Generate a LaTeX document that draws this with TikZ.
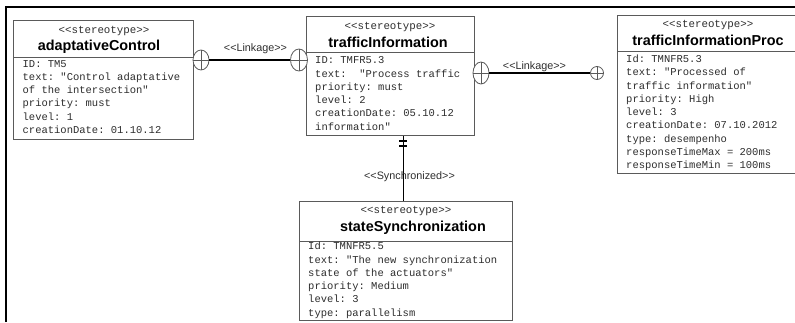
\documentclass[tikz,border=0pt]{standalone}
\usepackage{fontspec}
\setmainfont{Liberation Sans}[Ligatures=TeXOff]
\setsansfont{Liberation Sans}[Ligatures=TeXOff]
\setmonofont{Liberation Mono}
\usetikzlibrary{shapes.geometric}

\definecolor{boxline}{HTML}{5A5A5A}
\definecolor{bodytext}{HTML}{2E2E2E}

% fixed top of the first attribute line: 10pt above its baseline
\newcommand\attrtop{\rule{0pt}{10pt}}

\tikzset{
  classbox/.style={draw=boxline, line width=0.9pt, fill=white, inner sep=0, anchor=north west},
  divider/.style={draw=boxline, line width=0.9pt},
  stereo/.style={font=\ttfamily\fontsize{10.8}{12}\selectfont, text=bodytext, inner sep=0, anchor=base},
  cname/.style={font=\sffamily\bfseries\fontsize{14.4}{16}\selectfont, inner sep=0, anchor=base},
  attrs/.style={font=\ttfamily\fontsize{10.5}{13.25}\selectfont, text=bodytext, align=left, inner sep=0, anchor=north west},
  rel/.style={line width=1.6pt},
  rellabel/.style={font=\sffamily\fontsize{10.8}{12}\selectfont, text=bodytext, inner sep=0, anchor=base},
  plusend/.style={ellipse, draw=boxline, line width=0.8pt, fill=white, inner sep=0,
    path picture={\draw[line width=0.8pt]
      (path picture bounding box.north) -- (path picture bounding box.south)
      (path picture bounding box.west) -- (path picture bounding box.east);}},
  outline/.style={line width=1.2pt},
}

\begin{document}
\begin{tikzpicture}[x=1pt, y=-1pt]
\useasboundingbox (0,0) rectangle (795,322);

% outer frame
\draw[outline] (6,322) -- (6,7) -- (795,7);

% adaptativeControl
\node[classbox, minimum width=180pt, minimum height=119pt] (ac) at (13,20) {};
\draw[divider] ([yshift=-37pt]ac.north west) -- ([yshift=-37pt]ac.north east);
\node[stereo] (acS) at (104,33.5) {<<stereotype>>};
\node[cname] (acN) at (99,50.5) {adaptativeControl};
\node[attrs] (acA) at (22.5,57) {\attrtop ID: TM5\\text: "Control adaptative\\of the intersection"\\priority: must\\level: 1\\creationDate: 01.10.12};

% trafficInformation
\node[classbox, minimum width=168pt, minimum height=119pt] (ti) at (306,16) {};
\draw[divider] ([yshift=-36pt]ti.north west) -- ([yshift=-36pt]ti.north east);
\node[stereo] (tiS) at (390,29) {<<stereotype>>};
\node[cname] (tiN) at (388,47) {trafficInformation};
\node[attrs] (tiA) at (315,53.7) {\attrtop ID: TMFR5.3\\text:\ \ "Process traffic\\priority: must\\level: 2\\creationDate: 05.10.12\\information"};

% trafficInformationProc
\node[classbox, minimum width=182pt, minimum height=158pt] (tip) at (617,15) {};
\draw[divider] ([yshift=-36pt]tip.north west) -- ([yshift=-36pt]tip.north east);
\node[stereo] (tipS) at (708,27.7) {<<stereotype>>};
\node[cname] (tipN) at (708,45) {trafficInformationProc};
\node[attrs] (tipA) at (626,52.3) {\attrtop Id: TMNFR5.3\\text: "Processed of\\traffic information"\\priority: High\\level: 3\\creationDate: 07.10.2012\\type: desempenho\\responseTimeMax = 200ms\\responseTimeMin = 100ms};

% stateSynchronization
\node[classbox, minimum width=213pt, minimum height=119pt] (ss) at (299,201) {};
\draw[divider] ([yshift=-40pt]ss.north west) -- ([yshift=-40pt]ss.north east);
\node[stereo] (ssS) at (406,213) {<<stereotype>>};
\node[cname] (ssN) at (413,231) {stateSynchronization};
\node[attrs] (ssA) at (308,239.7) {\attrtop Id: TMNFR5.5\\text: "The new synchronization\\state of the actuators"\\priority: Medium\\level: 3\\type: parallelism};

% Linkage: adaptativeControl -- trafficInformation
\node[plusend, minimum width=16pt, minimum height=20pt] (l1a) at (201,60) {};
\node[plusend, minimum width=17pt, minimum height=22pt] (l1b) at (299,60) {};
\draw[rel] (l1a) -- (l1b);
\node[rellabel] (l1t) at (255.5,51.7) {<<Linkage>>};

% Linkage: trafficInformation -- trafficInformationProc
\node[plusend, minimum width=16pt, minimum height=22pt] (l2a) at (481,73) {};
\node[plusend, minimum width=13pt, minimum height=13pt] (l2b) at (597,73) {};
\draw[rel] (l2a) -- (l2b);
\node[rellabel] (l2t) at (534.5,69) {<<Linkage>>};

% Synchronized: trafficInformation -- stateSynchronization
\draw[rel] ([xshift=13pt]ti.south) -- ([xshift=-2.5pt]ss.north);
\draw[line width=1.3pt] ([xshift=9pt,yshift=-5pt]ti.south) -- ([xshift=17pt,yshift=-5pt]ti.south);
\draw[line width=1.3pt] ([xshift=9pt,yshift=-10pt]ti.south) -- ([xshift=17pt,yshift=-10pt]ti.south);
\node[rellabel] (syt) at (409.5,179.3) {<<Synchronized>>};
\end{tikzpicture}
\end{document}
